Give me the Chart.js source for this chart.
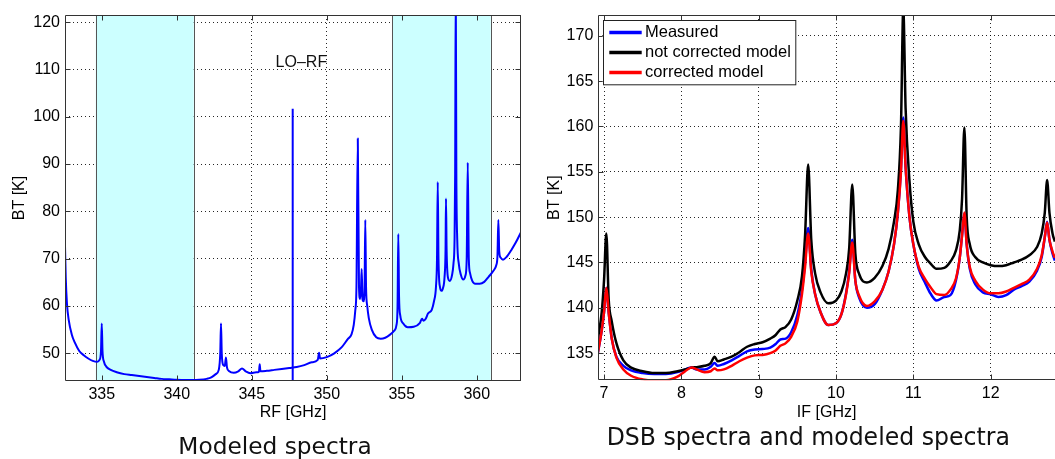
<!DOCTYPE html>
<html><head><meta charset="utf-8">
<script src="https://cdn.jsdelivr.net/npm/chart.js@4.4.1/dist/chart.umd.min.js"></script>
<style>
html,body{margin:0;padding:0;background:#fff;overflow:hidden;}
#wrap{position:relative;width:1055px;height:459px;}
canvas{position:absolute;top:0;}
#c1{left:0;width:530px;height:459px;}
#c2{left:530px;width:525px;height:459px;}
</style></head><body>
<div id="wrap"><canvas id="c1" width="530" height="459"></canvas><canvas id="c2" width="525" height="459"></canvas></div>
<script>
// ---------- Left panel: modeled spectrum ----------
const rfGHz = [332.55,332.6,332.68,332.8,333.0,333.2,333.5,333.8,334.1,334.4,334.7,334.85,334.95,335.0,335.05,335.15,335.3,335.6,336.0,336.5,337.0,337.5,338.0,338.5,339.0,339.5,340.0,340.5,341.0,341.5,342.0,342.3,342.6,342.8,342.9,342.95,343.0,343.1,343.2,343.28,343.35,343.5,343.8,344.1,344.35,344.6,344.9,345.3,345.48,345.53,345.58,346.0,346.5,347.0,347.5,348.0,348.5,349.0,349.4,349.49,349.55,350.0,350.5,351.0,351.4,351.65,351.8,351.9,351.98,352.07,352.15,352.22,352.28,352.33,352.38,352.45,352.52,352.57,352.62,352.7,352.8,353.0,353.3,353.6,353.9,354.2,354.5,354.65,354.72,354.77,354.82,354.9,355.1,355.4,355.8,356.2,356.35,356.45,356.6,356.75,357.0,357.15,357.28,357.35,357.4,357.45,357.55,357.65,357.75,357.85,357.92,357.95,357.99,358.08,358.2,358.35,358.45,358.52,358.56,358.6,358.64,358.7,358.8,358.95,359.1,359.25,359.33,359.4,359.47,359.55,359.7,359.9,360.2,360.5,360.8,361.1,361.3,361.38,361.44,361.5,361.6,361.75,362.0,362.3,362.6,362.95];
const rfBT = [72.7,66,60.5,57,54,52.3,50.5,49.6,48.9,48.4,48.2,48.6,50.5,56.3,50.5,48.2,47.2,46.5,46.0,45.6,45.4,45.2,45.0,44.8,44.6,44.5,44.4,44.35,44.35,44.4,44.6,44.9,45.6,46.5,50,56.3,50,47.5,47.3,49.1,47,46.2,45.9,46.2,46.8,46.2,45.8,46.0,46.1,47.7,46.2,46.3,46.5,46.7,46.9,47.1,47.5,48.1,48.6,50.1,48.9,49.2,50.0,51.3,53,54,56,59,64,95.4,64,61.5,63.5,67.8,61.5,61,64,78.2,64,60,57.5,55,53.4,53.1,53.3,53.9,54.8,56,60,75.2,62,58,56.3,55.5,55.6,56.4,57.3,56.9,57.3,58.4,59.2,61,64,70,86.2,70,64,63.2,63.8,66,72,82.7,72,66,65.3,66.5,69,74,88,128,88,74,69,66.5,65.6,66.5,70,90.3,70,67,65.3,64.7,64.7,65.1,66.2,67.4,68.6,70.5,78.2,71.5,70.2,69.8,70.4,71.8,73.4,75.6];
const loLineGHz = 347.73;
const loLineTop = 101.7;
const loLabel = {x: 348.31, y: 111.5, text: 'LO\u2013RF'};
const sidebandSpans = [[334.6, 341.13], [354.38, 360.93]];
const rfTicks = [335, 340, 345, 350, 355, 360];
const btTicksL = [50, 60, 70, 80, 90, 100, 110, 120];

// ---------- Right panel: DSB spectra ----------
const ifGHz = [6.92,6.97,7.0,7.03,7.06,7.1,7.16,7.25,7.35,7.5,7.65,7.8,7.95,8.05,8.13,8.2,8.3,8.38,8.43,8.47,8.55,8.65,8.75,8.85,8.95,9.05,9.15,9.22,9.28,9.35,9.42,9.5,9.56,9.6,9.64,9.68,9.73,9.8,9.9,10.0,10.07,10.13,10.17,10.21,10.25,10.3,10.4,10.5,10.6,10.68,10.75,10.8,10.84,10.87,10.9,10.95,11.0,11.07,11.15,11.22,11.3,11.4,11.48,11.55,11.6,11.63,11.66,11.69,11.73,11.8,11.9,12.0,12.1,12.2,12.3,12.4,12.5,12.6,12.66,12.7,12.73,12.76,12.8,12.83];
const measured = [135.0,137.5,139.5,142.2,139.5,136.6,134.6,133.6,133.1,132.8,132.7,132.7,132.9,133.2,133.4,133.2,133.2,133.5,133.9,133.6,133.8,134.2,134.7,135.2,135.4,135.45,135.6,136.0,136.5,136.6,137.3,139.2,142,145,148.8,144.2,141.5,139.5,138.1,138.3,139.3,141.6,144,147.5,143,141.1,140.0,140.4,142,144,147,150.5,155.3,161.0,155.5,150,147,144.3,142.8,141.6,140.8,141.2,141.4,143.0,145.5,148,150.4,147,144.3,142.6,141.7,141.5,141.2,141.4,142.0,142.4,142.9,144.1,145.6,147.8,149.5,147.5,146.0,145.2];
const notCorrected = [136.5,139.5,143,148.2,141,138.5,136.1,134.2,133.4,133.0,132.8,132.8,133.0,133.2,133.4,133.45,133.6,133.9,134.6,134.1,134.3,134.6,135.1,135.7,136.0,136.2,136.6,137.0,137.6,137.9,138.7,140.8,143.5,148,155.8,147.5,143.8,141.7,140.5,140.8,141.8,143.8,146.5,153.6,146,143.7,142.8,143.3,144.6,146.5,149.5,153,160,173,162,154,149.5,147,145.6,144.9,144.3,144.4,145.1,146.3,148.5,152,159.9,150,147,145.6,145.0,144.7,144.6,144.7,145.0,145.3,145.8,146.7,148.2,150.5,154.1,150.5,148.2,147.3];
const corrected = [135.0,137.5,139.5,142.2,139.5,136.6,134.5,133.2,132.5,132.1,132.0,132.0,132.4,133.0,133.4,133.2,132.9,133.0,133.3,133.1,133.2,133.6,134.1,134.5,134.75,134.8,135.0,135.3,135.8,136.1,136.8,138.5,141.5,144.5,148.2,144,141.5,139.5,138.1,138.3,139.3,141.5,143.8,147.2,143,141.3,140.2,140.7,142,144,147,150.5,155,160.6,155.5,150,147,144.5,143.2,142.3,141.5,141.4,142.0,143.2,145.5,148,150.5,147,144.5,143.0,142.0,141.6,141.6,141.8,142.2,142.6,143.1,144.3,145.8,147.8,149.4,147.5,146.2,145.5];
const ifTicks = [7, 8, 9, 10, 11, 12];
const btTicksR = [135, 140, 145, 150, 155, 160, 165, 170];

Chart.defaults.font.family = "'Liberation Sans', Arial, sans-serif";
Chart.defaults.font.size = 16;
Chart.defaults.color = '#000';
Chart.defaults.animation = false;

const pts = (xs, ys) => xs.map((x, i) => ({x: x, y: ys[i]}));

const framePlugin = {
  id: 'frame',
  beforeDatasetsDraw(chart, args, o) {
    const {ctx, chartArea: a, scales: {x}} = chart;
    ctx.save();
    (o.spans || []).forEach(([s, e]) => {
      const x0 = x.getPixelForValue(s), x1 = x.getPixelForValue(e);
      ctx.fillStyle = '#ccffff';
      ctx.fillRect(x0, a.top, x1 - x0, a.bottom - a.top);
      ctx.strokeStyle = '#555';
      ctx.lineWidth = 1;
      [x0, x1].forEach(px => {
        const p = Math.round(px) + 0.5;
        ctx.beginPath(); ctx.moveTo(p, a.top); ctx.lineTo(p, a.bottom); ctx.stroke();
      });
    });
    ctx.restore();
  },
  afterDatasetsDraw(chart, args, o) {
    const {ctx, chartArea: a, scales: {x, y}} = chart;
    ctx.save();
    ctx.strokeStyle = '#333';
    ctx.lineWidth = 1;
    const L = Math.round(a.left) + 0.5, R = Math.round(a.right) - 0.5;
    const T = Math.round(a.top) + 0.5, B = Math.round(a.bottom) - 0.5;
    ctx.beginPath();
    ctx.moveTo(L, T); ctx.lineTo(L, B);
    ctx.moveTo(L, B); ctx.lineTo(a.right, B);
    ctx.moveTo(L, T); ctx.lineTo(a.right, T);
    if (o.right) { ctx.moveTo(R, T); ctx.lineTo(R, B); }
    x.ticks.forEach(t => {
      const p = Math.round(x.getPixelForValue(t.value)) + 0.5;
      ctx.moveTo(p, B); ctx.lineTo(p, B - 5);
      ctx.moveTo(p, T); ctx.lineTo(p, T + 5);
    });
    y.ticks.forEach(t => {
      const p = Math.round(y.getPixelForValue(t.value)) + 0.5;
      ctx.moveTo(L, p); ctx.lineTo(L + 5, p);
      if (o.right) { ctx.moveTo(R, p); ctx.lineTo(R - 5, p); }
    });
    ctx.stroke();
    if (o.label) {
      ctx.fillStyle = '#111';
      ctx.font = "16px 'Liberation Sans', Arial, sans-serif";
      ctx.textAlign = 'center';
      ctx.textBaseline = 'middle';
      ctx.fillText(o.label.text, x.getPixelForValue(o.label.x), y.getPixelForValue(o.label.y));
    }
    if (o.legend) {
      const g = o.legend;
      const x0 = a.left + g.dx, y0 = a.top + g.dy;
      ctx.fillStyle = '#fff';
      ctx.fillRect(x0, y0, g.w, g.h);
      ctx.strokeStyle = '#222';
      ctx.lineWidth = 1;
      ctx.strokeRect(Math.round(x0) + 0.5, Math.round(y0) + 0.5, g.w, g.h);
      ctx.font = g.size + "px 'Liberation Sans', Arial, sans-serif";
      ctx.textAlign = 'left';
      ctx.textBaseline = 'middle';
      chart.data.datasets.forEach((ds, i) => {
        const yy = y0 + g.row0 + i * g.rowH;
        ctx.strokeStyle = ds.borderColor;
        ctx.lineWidth = g.lw;
        ctx.beginPath(); ctx.moveTo(x0 + g.l0, yy); ctx.lineTo(x0 + g.l1, yy); ctx.stroke();
        ctx.fillStyle = '#000';
        ctx.fillText(ds.label, x0 + g.tx, yy);
      });
    }
    ctx.restore();
  },
  afterDraw(chart, args, o) {
    if (!o.title) return;
    const {ctx} = chart;
    const t = o.title;
    ctx.save();
    ctx.font = t.size + "px 'DejaVu Sans', sans-serif";
    const w = ctx.measureText(t.text).width;
    ctx.translate(t.cx, t.baseline);
    ctx.scale(t.width / w, 1);
    ctx.fillStyle = '#111';
    ctx.textAlign = 'center';
    ctx.textBaseline = 'alphabetic';
    ctx.fillText(t.text, 0, 0);
    ctx.restore();
  }
};

function axes(xmin, xmax, xt, xTitle, ymin, ymax, yt, yWidth, yTitlePad, xHeight) {
  const grid = {color: 'rgba(0,0,0,0.85)', lineWidth: 1, drawTicks: false};
  return {
    x: {
      type: 'linear', min: xmin, max: xmax,
      afterBuildTicks: s => { s.ticks = xt.map(v => ({value: v})); },
      afterFit: s => { s.height = xHeight; },
      grid: grid,
      border: {display: false, dash: [1, 3]},
      ticks: {padding: 4, maxRotation: 0, autoSkip: false, color: '#000', font: {size: 16}},
      title: {display: true, text: xTitle, color: '#000', font: {size: 16}, padding: {top: 0, bottom: 36.4}}
    },
    y: {
      type: 'linear', min: ymin, max: ymax,
      afterBuildTicks: s => { s.ticks = yt.map(v => ({value: v})); },
      afterFit: s => { s.width = yWidth; },
      grid: grid,
      border: {display: false, dash: [1, 3]},
      ticks: {padding: 5, autoSkip: false, color: '#000', font: {size: 16}},
      title: {display: true, text: 'BT [K]', color: '#000', font: {size: 16}, padding: {top: yTitlePad, bottom: 0}}
    }
  };
}

const lineStyle = {pointRadius: 0, cubicInterpolationMode: 'monotone', clip: 0, borderJoinStyle: 'round'};

new Chart(document.getElementById('c1'), {
  type: 'line',
  data: {
    datasets: [
      Object.assign({label: 'Modeled spectrum', data: pts(rfGHz, rfBT), borderColor: '#0000ff', borderWidth: 2}, lineStyle),
      {label: 'LO', data: [{x: loLineGHz, y: 44.15}, {x: loLineGHz, y: loLineTop}], borderColor: '#0000ff', borderWidth: 2, pointRadius: 0, clip: 0}
    ]
  },
  options: {
    responsive: false,
    animation: false,
    layout: {padding: {top: 15, right: 9, left: 0, bottom: 0}},
    plugins: {
      legend: {display: false}, tooltip: {enabled: false},
      frame: {spans: sidebandSpans, right: true, label: loLabel,
        title: {text: 'Modeled spectra', cx: 275, baseline: 454.3, size: 23, width: 193.3}}
    },
    scales: axes(332.55, 362.95, rfTicks, 'RF [GHz]', 44.15, 121.5, btTicksL, 65, 10.4, 78)
  },
  plugins: [framePlugin]
});

new Chart(document.getElementById('c2'), {
  type: 'line',
  data: {
    datasets: [
      Object.assign({label: 'Measured', data: pts(ifGHz, measured), borderColor: '#0000ff', borderWidth: 2.5, order: 3}, lineStyle),
      Object.assign({label: 'not corrected model', data: pts(ifGHz, notCorrected), borderColor: '#000000', borderWidth: 2.5, order: 2}, lineStyle),
      Object.assign({label: 'corrected model', data: pts(ifGHz, corrected), borderColor: '#ff0000', borderWidth: 2.5, order: 1}, lineStyle)
    ]
  },
  options: {
    responsive: false,
    animation: false,
    layout: {padding: {top: 15, right: 0, left: 0, bottom: 0}},
    plugins: {
      legend: {display: false}, tooltip: {enabled: false},
      frame: {right: false,
        legend: {dx: 4.4, dy: 5, w: 192.3, h: 64.3, row0: 12.5, rowH: 20, l0: 6.6, l1: 39, tx: 42.3, size: 16.5, lw: 3.5},
        title: {text: 'DSB spectra and modeled spectra', cx: 278.3, baseline: 445, size: 25, width: 403.3}}
    },
    scales: axes(6.926, 12.832, ifTicks, 'IF [GHz]', 132.0, 172.3, btTicksR, 68.3, 14.6, 78.7)
  },
  plugins: [framePlugin]
});
</script>
</body></html>
